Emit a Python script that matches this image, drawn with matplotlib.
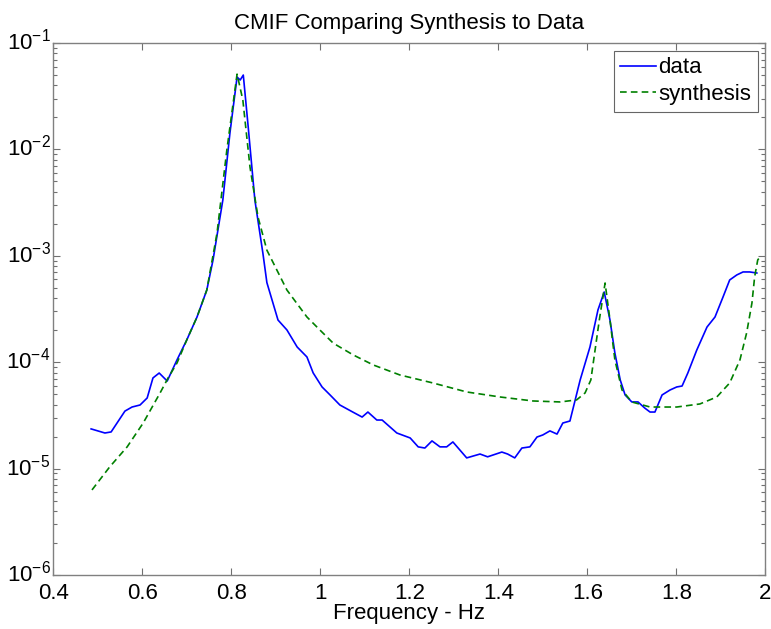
import matplotlib.pyplot as plt
import matplotlib.transforms as mtransforms
import numpy as np
from matplotlib.ticker import LogLocator

plt.rcParams['font.family'] = ['Liberation Sans', 'DejaVu Sans']
plt.rcParams['mathtext.default'] = 'regular'

# measured CMIF (blue)
data_freq = [0.485, 0.516, 0.530, 0.561, 0.577, 0.595, 0.611, 0.624, 0.638, 0.656,
             0.678, 0.700, 0.723, 0.745, 0.759, 0.781, 0.797, 0.813, 0.820, 0.827,
             0.838, 0.853, 0.871, 0.880, 0.905, 0.925, 0.948, 0.970, 0.984, 1.004,
             1.022, 1.044, 1.073, 1.094, 1.107, 1.127, 1.139, 1.172, 1.202, 1.220,
             1.235, 1.251, 1.269, 1.284, 1.298, 1.329, 1.359, 1.376, 1.408, 1.421,
             1.437, 1.453, 1.471, 1.487, 1.500, 1.516, 1.532, 1.545, 1.561, 1.584,
             1.606, 1.624, 1.638, 1.651, 1.662, 1.674, 1.685, 1.700, 1.714, 1.729,
             1.741, 1.752, 1.768, 1.786, 1.801, 1.813, 1.826, 1.846, 1.869, 1.887,
             1.905, 1.920, 1.936, 1.950, 1.965, 1.981]
data_vals = [2.36e-5, 2.16e-5, 2.21e-5, 3.47e-5, 3.79e-5, 3.96e-5, 4.61e-5, 7.11e-5, 7.91e-5, 6.65e-5,
             1.05e-4, 1.62e-4, 2.66e-4, 4.77e-4, 9.14e-4, 3.34e-3, 1.43e-2, 4.79e-2, 4.49e-2, 5.0e-2,
             1.63e-2, 3.34e-3, 1.06e-3, 5.6e-4, 2.49e-4, 2.01e-4, 1.39e-4, 1.12e-4, 7.93e-5, 5.85e-5,
             4.92e-5, 3.96e-5, 3.40e-5, 3.05e-5, 3.40e-5, 2.86e-5, 2.86e-5, 2.16e-5, 1.94e-5, 1.60e-5,
             1.56e-5, 1.82e-5, 1.60e-5, 1.60e-5, 1.78e-5, 1.26e-5, 1.37e-5, 1.29e-5, 1.43e-5, 1.37e-5,
             1.26e-5, 1.56e-5, 1.60e-5, 1.98e-5, 2.07e-5, 2.26e-5, 2.11e-5, 2.68e-5, 2.80e-5, 6.81e-5,
             1.39e-4, 3.10e-4, 4.57e-4, 2.49e-4, 1.22e-4, 6.81e-5, 4.92e-5, 4.23e-5, 4.23e-5, 3.71e-5,
             3.40e-5, 3.40e-5, 4.92e-5, 5.48e-5, 5.85e-5, 5.97e-5, 7.93e-5, 1.30e-4, 2.14e-4, 2.66e-4,
             4.10e-4, 5.93e-4, 6.61e-4, 7.05e-4, 7.05e-4, 6.89e-4]

# synthesized CMIF (green dashed)
synth_freq = [0.487, 0.527, 0.566, 0.602, 0.640, 0.658, 0.678, 0.700, 0.723, 0.745,
              0.768, 0.790, 0.803, 0.813, 0.826, 0.842, 0.860, 0.880, 0.925, 0.970,
              0.999, 1.029, 1.074, 1.119, 1.179, 1.253, 1.329, 1.404, 1.478, 1.539,
              1.576, 1.595, 1.608, 1.627, 1.640, 1.651, 1.662, 1.678, 1.700, 1.741,
              1.801, 1.853, 1.891, 1.920, 1.943, 1.958, 1.970, 1.976, 1.983, 1.990]
synth_vals = [6.3e-6, 1.04e-5, 1.60e-5, 2.68e-5, 5.14e-5, 7.11e-5, 9.82e-5, 1.62e-4, 2.66e-4, 4.77e-4,
              1.64e-3, 9.86e-3, 2.5e-2, 5.1e-2, 2.91e-2, 6.84e-3, 2.32e-3, 1.13e-3, 4.77e-4, 2.66e-4,
              2.01e-4, 1.51e-4, 1.17e-4, 9.42e-5, 7.58e-5, 6.38e-5, 5.25e-5, 4.71e-5, 4.32e-5, 4.23e-5,
              4.42e-5, 5.14e-5, 6.81e-5, 2.49e-4, 5.55e-4, 2.49e-4, 1.05e-4, 5.48e-5, 4.23e-5, 3.79e-5,
              3.79e-5, 4.05e-5, 4.71e-5, 6.38e-5, 1.05e-4, 1.88e-4, 3.60e-4, 6.32e-4, 9.14e-4, 1.0e-3]

xticks = [0.4, 0.6, 0.8, 1, 1.2, 1.4, 1.6, 1.8, 2]
xticklabels = ['0.4', '0.6', '0.8', '1', '1.2', '1.4', '1.6', '1.8', '2']

fig = plt.figure(figsize=(7.71, 6.29), dpi=100)
ax = fig.add_axes([0.0691, 0.0859, 0.9235, 0.8457])

ax.semilogy(data_freq, data_vals, color='#0000ff', lw=1.2, label='data')
ax.semilogy(synth_freq, synth_vals, color='#008000', lw=1.2, ls='--', dashes=(4, 2.5), label='synthesis')

ax.set_xlim(0.4, 2)
ax.set_ylim(1e-6, 1e-1)
ax.set_xticks(xticks)
ax.set_xticklabels(xticklabels)
ax.yaxis.set_major_locator(LogLocator(base=10, numticks=10))
ax.yaxis.set_minor_locator(LogLocator(base=10, subs=np.arange(2, 10), numticks=10))

ax.tick_params(which='both', direction='in', top=True, right=True, labelsize=16,
               colors='#000000')
ax.tick_params(which='major', length=5, width=0.8, color='#707070', pad=6)
ax.tick_params(axis='y', which='major', pad=2)
ax.tick_params(which='minor', length=3, width=0.8, color='#707070')
for s in ax.spines.values():
    s.set_color('#808080')
    s.set_linewidth(1.0)

# nudge the 10^n labels up so the digits sit on the tick, as in MATLAB
lift = mtransforms.ScaledTranslation(0, 4 / 100, fig.dpi_scale_trans)
for lab in ax.get_yticklabels():
    lab.set_transform(lab.get_transform() + lift)

ax.set_title('CMIF Comparing Synthesis to Data', fontsize=16, pad=10)
ax.set_xlabel('Frequency - Hz', fontsize=16, labelpad=-1)

leg = ax.legend(loc='upper right', fontsize=16, frameon=True, fancybox=False,
                handlelength=1.6, handletextpad=0.1, borderpad=0.3, labelspacing=0.25,
                borderaxespad=0.35)
leg.get_frame().set_edgecolor('#404040')
leg.get_frame().set_linewidth(0.8)

fig.savefig('out.png', dpi=100)
